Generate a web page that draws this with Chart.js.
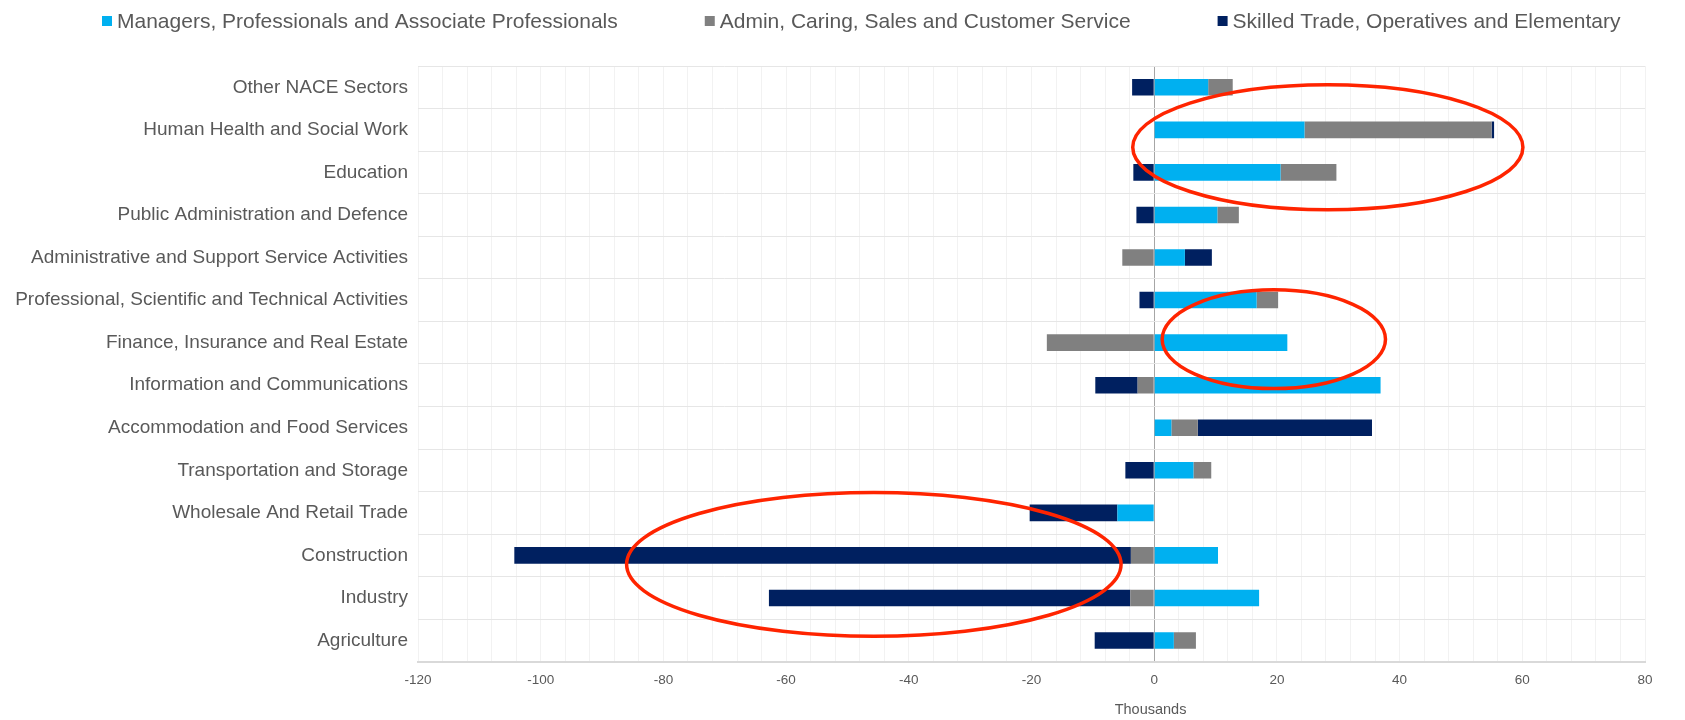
<!DOCTYPE html>
<html><head><meta charset="utf-8">
<script src="https://cdn.jsdelivr.net/npm/chart.js@4.4.1/dist/chart.umd.min.js"></script>
<style>html,body{margin:0;padding:0;background:#fff;} #c{display:block;}</style>
</head><body>
<canvas id="c" width="1685" height="720"></canvas>
<script>
// ---- data (thousands) ----
const categories = [
  'Other NACE Sectors',
  'Human Health and Social Work',
  'Education',
  'Public Administration and Defence',
  'Administrative and Support Service Activities',
  'Professional, Scientific and Technical Activities',
  'Finance, Insurance and Real Estate',
  'Information and Communications',
  'Accommodation and Food Services',
  'Transportation and Storage',
  'Wholesale And Retail Trade',
  'Construction',
  'Industry',
  'Agriculture'
];
const seriesNames = [
  'Managers, Professionals and Associate Professionals',
  'Admin, Caring, Sales and Customer Service',
  'Skilled Trade, Operatives and Elementary'
];
const managers     = [8.8, 24.5, 20.6, 10.3, 5.0, 16.7, 21.7, 36.9, 2.8, 6.4, -6.0, 10.4, 17.1, 3.2];
const adminCaring  = [4.0, 30.5, 9.1, 3.5, -5.2, 3.5, -17.5, -2.7, 4.3, 2.9, 0, -3.8, -3.9, 3.6];
const skilledTrade = [-3.6, 0.4, -3.4, -2.9, 4.4, -2.4, 0, -6.9, 28.4, -4.7, -14.3, -100.5, -58.9, -9.7];
const xMin = -120, xMax = 80, xLabelStep = 20, xGridStep = 4;
const axisTitle = 'Thousands';
// highlight ellipses: centre value / category position and radii (in axis units)
const highlights = [
  {x: 28.3, rx: 31.8, y: 1.41, ry: 1.47},
  {x: 19.5, rx: 18.2, y: 5.92, ry: 1.16},
  {x: -45.7, rx: 40.3, y: 11.21, ry: 1.69}
];

const colors = ['#00B0F0', '#808080', '#002060'];
const FONT = '"Liberation Sans", Arial, Helvetica, sans-serif';
const TEXT = '#595959';
Chart.defaults.font.family = FONT;
Chart.defaults.color = TEXT;

const legendPlugin = {
  id: 'topLegend',
  afterDraw(chart) {
    const ctx = chart.ctx;
    ctx.save();
    ctx.font = '21px ' + FONT;
    ctx.textBaseline = 'middle';
    ctx.textAlign = 'left';
    let x = 102;
    const y = 21;
    chart.data.datasets.forEach(ds => {
      ctx.fillStyle = ds.backgroundColor;
      ctx.fillRect(x, y - 5, 10, 10);
      x += 15;
      ctx.fillStyle = TEXT;
      ctx.fillText(ds.label, x, y + 1);
      x += ctx.measureText(ds.label).width + 87;
    });
    // axis unit label, placed near the zero line as in the original
    const xs = chart.scales.x;
    ctx.font = '14.5px ' + FONT;
    ctx.textAlign = 'center';
    ctx.fillStyle = TEXT;
    ctx.fillText(axisTitle, xs.getPixelForValue(-0.6), 710);
    ctx.restore();
  }
};

const ellipsePlugin = {
  id: 'highlights',
  afterDatasetsDraw(chart) {
    const ctx = chart.ctx, xs = chart.scales.x, ys = chart.scales.y;
    ctx.save();
    ctx.strokeStyle = '#FF2400';
    ctx.lineWidth = 3.5;
    highlights.forEach(h => {
      const cx = xs.getPixelForValue(h.x);
      const cy = ys.getPixelForValue(h.y);
      const rx = Math.abs(xs.getPixelForValue(h.x + h.rx) - cx);
      const ry = Math.abs(ys.getPixelForValue(h.y + h.ry) - cy);
      ctx.beginPath();
      ctx.ellipse(cx, cy, rx, ry, 0, 0, Math.PI * 2);
      ctx.stroke();
    });
    ctx.restore();
  }
};

const seriesValues = [managers, adminCaring, skilledTrade];
new Chart(document.getElementById('c'), {
  type: 'bar',
  data: {
    labels: categories,
    datasets: seriesNames.map((name, i) => ({
      label: name,
      data: seriesValues[i],
      backgroundColor: colors[i],
      borderWidth: 0,
      categoryPercentage: 1,
      barPercentage: 0.39
    }))
  },
  options: {
    responsive: false,
    animation: false,
    devicePixelRatio: 1,
    indexAxis: 'y',
    layout: {padding: {top: 66, left: 12, right: 40, bottom: 22}},
    plugins: {legend: {display: false}, tooltip: {enabled: false}},
    scales: {
      x: {
        stacked: true,
        min: xMin, max: xMax,
        ticks: {
          stepSize: xGridStep, autoSkip: false, maxRotation: 0, maxTicksLimit: 100,
          padding: 10, font: {size: 13.5}, color: TEXT,
          callback: v => (Math.round(v) % xLabelStep === 0 ? String(Math.round(v)) : '')
        },
        grid: {
          drawTicks: false,
          color: c => (c.tick && Math.round(c.tick.value) === 0 ? '#A6A6A6' : '#F2F2F2'),
          lineWidth: 1
        },
        border: {display: true, color: '#D9D9D9', width: 2},
        title: {display: false}
      },
      y: {
        stacked: true,
        ticks: {padding: 10, font: {size: 19}, color: TEXT, autoSkip: false},
        grid: {drawTicks: false, color: '#E6E6E6', offset: true},
        border: {display: false},
        afterFit(s) { s.width = 406; }
      }
    }
  },
  plugins: [legendPlugin, ellipsePlugin]
});
</script>
</body></html>
